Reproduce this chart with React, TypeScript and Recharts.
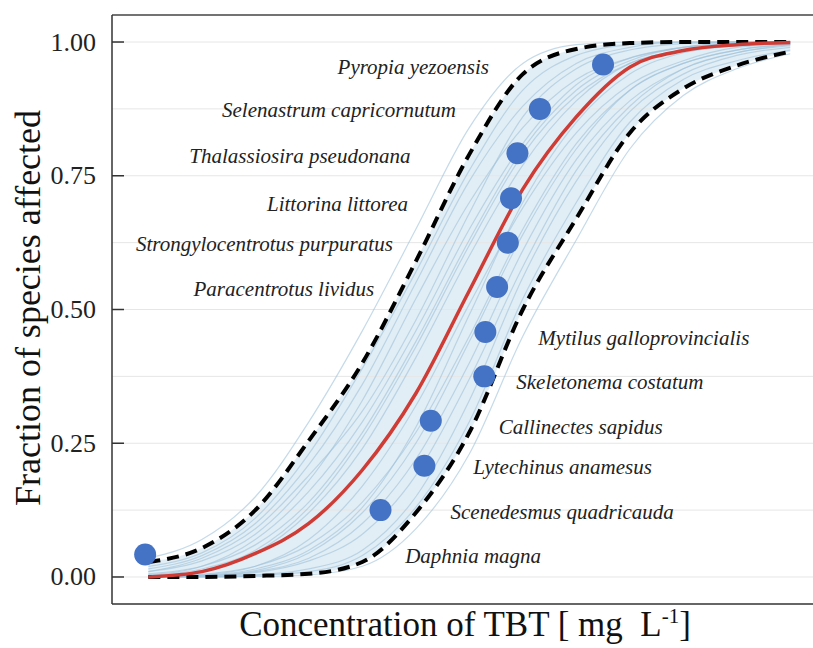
import { Area, ComposedChart, Line, ReferenceLine, Scatter, XAxis, YAxis } from "recharts";

// log10 concentration grid the fitted curves were read at
const conc = [-3, -2.5, -2, -1.5, -1, -0.5, 0, 0.5, 1, 1.5, 2, 2.5, 3];

// median fit + 95% bounds
const median = [0.0, 0.01, 0.044, 0.1, 0.2, 0.343, 0.535, 0.725, 0.86, 0.953, 0.984, 0.995, 0.999];
const upperCI = [0.028, 0.054, 0.125, 0.255, 0.4, 0.59, 0.79, 0.94, 0.987, 0.998, 1.0, 1.0, 1.0];
const lowerCI = [0.0, 0.0, 0.002, 0.006, 0.028, 0.12, 0.27, 0.5, 0.67, 0.83, 0.913, 0.956, 0.982];

// a sample of the bootstrap curves
const bootCurves = [
  [0.004, 0.02, 0.07, 0.16, 0.29, 0.46, 0.65, 0.81, 0.92, 0.97, 0.99, 0.998, 1.0],
  [0.0, 0.005, 0.02, 0.06, 0.14, 0.27, 0.45, 0.65, 0.81, 0.91, 0.96, 0.985, 0.995],
  [0.01, 0.03, 0.08, 0.18, 0.33, 0.52, 0.7, 0.84, 0.93, 0.97, 0.99, 1.0, 1.0],
  [0.0, 0.002, 0.01, 0.035, 0.1, 0.22, 0.4, 0.61, 0.78, 0.89, 0.95, 0.98, 0.993],
  [0.015, 0.04, 0.1, 0.21, 0.36, 0.55, 0.74, 0.88, 0.96, 0.99, 1.0, 1.0, 1.0],
  [0.0, 0.0, 0.004, 0.015, 0.05, 0.15, 0.33, 0.56, 0.74, 0.87, 0.94, 0.975, 0.99],
  [0.002, 0.012, 0.045, 0.12, 0.24, 0.41, 0.6, 0.77, 0.89, 0.96, 0.985, 0.995, 1.0],
  [0.0, 0.003, 0.015, 0.05, 0.13, 0.28, 0.49, 0.7, 0.85, 0.94, 0.98, 0.993, 0.998],
  [0.02, 0.045, 0.11, 0.23, 0.39, 0.57, 0.76, 0.91, 0.975, 0.995, 1.0, 1.0, 1.0],
  [0.0, 0.0, 0.003, 0.01, 0.04, 0.13, 0.29, 0.52, 0.7, 0.85, 0.93, 0.965, 0.985],
  [0.006, 0.02, 0.06, 0.14, 0.27, 0.44, 0.63, 0.8, 0.91, 0.965, 0.99, 0.997, 1.0],
  [0.0, 0.004, 0.02, 0.07, 0.17, 0.32, 0.51, 0.69, 0.83, 0.92, 0.965, 0.99, 0.997],
  [0.035, 0.07, 0.15, 0.29, 0.46, 0.65, 0.84, 0.96, 0.995, 1.0, 1.0, 1.0, 1.0],
  [0.0, 0.0, 0.001, 0.004, 0.02, 0.09, 0.23, 0.45, 0.63, 0.8, 0.9, 0.95, 0.978],
  [0.01, 0.035, 0.09, 0.19, 0.31, 0.48, 0.68, 0.86, 0.95, 0.985, 0.997, 1.0, 1.0],
  [0.0, 0.001, 0.008, 0.03, 0.08, 0.19, 0.37, 0.58, 0.76, 0.88, 0.95, 0.98, 0.995],
  [0.003, 0.015, 0.05, 0.13, 0.26, 0.43, 0.62, 0.79, 0.9, 0.96, 0.985, 0.996, 1.0],
  [0.0, 0.002, 0.012, 0.045, 0.12, 0.25, 0.44, 0.64, 0.8, 0.91, 0.96, 0.985, 0.996],
];

// species toxicity points
const species = [
  "Daphnia magna",
  "Scenedesmus quadricauda",
  "Lytechinus anamesus",
  "Callinectes sapidus",
  "Skeletonema costatum",
  "Mytilus galloprovincialis",
  "Paracentrotus lividus",
  "Strongylocentrotus purpuratus",
  "Littorina littorea",
  "Thalassiosira pseudonana",
  "Selenastrum capricornutum",
  "Pyropia yezoensis",
];
const speciesConc = [-3.03, -0.83, -0.42, -0.36, 0.14, 0.15, 0.26, 0.36, 0.39, 0.45, 0.66, 1.25];
const speciesFrac = [0.042, 0.125, 0.208, 0.292, 0.375, 0.458, 0.542, 0.625, 0.708, 0.792, 0.875, 0.958];

// label placement (px from the point)
const labelDx = [260, 70, 49, 68, 32, 53, -123, -115, -103, -107, -84, -114];
const labelDy = [1, 2, 1, 6, 6, 6, 2, 1, 6, 3, 1, 3];

const yTicks = [0, 0.25, 0.5, 0.75, 1];
const gridLines = [0, 0.125, 0.25, 0.375, 0.5, 0.625, 0.75, 0.875, 1];

const Y_MIN = -0.0505;
const Y_MAX = 1.0505;
const AXIS_X = 112;
const FONT = "'Liberation Serif', 'Times New Roman', serif";

const toPoints = (ys: number[]) => conc.map((x, i) => ({ x, y: ys[i] }));
const bandData = conc.map((x, i) => ({ x, band: [lowerCI[i], upperCI[i]] }));
const pointData = species.map((name, i) => ({
  name,
  x: speciesConc[i],
  y: speciesFrac[i],
  dx: labelDx[i],
  dy: labelDy[i],
}));

const YTick = (props: any) => {
  const { y, payload } = props;
  return (
    <g>
      <line x1={AXIS_X} x2={AXIS_X + 12} y1={y} y2={y} stroke="#333" strokeWidth={1.5} />
      <text x={AXIS_X - 16} y={y} textAnchor="end" dominantBaseline="central" fontSize={26} fontFamily={FONT} fill="#222">
        {payload.value.toFixed(2)}
      </text>
    </g>
  );
};

const SpeciesDot = (props: any) => {
  const { cx, cy, payload } = props;
  return (
    <g>
      <circle cx={cx} cy={cy} r={11} fill="#4472c4" />
      <text
        x={cx + payload.dx}
        y={cy + payload.dy}
        textAnchor={payload.dx < 0 ? "end" : "start"}
        dominantBaseline="central"
        fontSize={21}
        fontStyle="italic"
        fontFamily={FONT}
        fill="#222"
      >
        {payload.name}
      </text>
    </g>
  );
};

export default function App() {
  return (
    <div style={{ position: "fixed", left: 0, top: 0, width: 813, height: 648, background: "#fff", overflow: "hidden" }}>
      <style>{"html, body { margin: 0; overflow: hidden; }"}</style>
      {/* plot runs off the right edge like in the source figure */}
      <ComposedChart width={813} height={648} margin={{ top: 15, right: -12, bottom: 44, left: 0 }}>
        <XAxis type="number" dataKey="x" domain={[-3.34, 3.325]} allowDataOverflow hide />
        <YAxis
          type="number"
          domain={[Y_MIN, Y_MAX]}
          ticks={yTicks}
          width={AXIS_X}
          tickLine={false}
          tick={<YTick />}
          axisLine={{ stroke: "#333", strokeWidth: 1.5 }}
          allowDataOverflow
        />
        {gridLines.map((v) => (
          <ReferenceLine key={v} y={v} stroke="#e6e6e6" strokeWidth={1} />
        ))}
        <ReferenceLine y={Y_MAX} stroke="#444" strokeWidth={1.5} />
        <ReferenceLine y={Y_MIN} stroke="#333" strokeWidth={1.5} />

        <Area
          data={bandData}
          dataKey="band"
          type="monotone"
          stroke="none"
          fill="#cfe2ee"
          fillOpacity={0.6}
          isAnimationActive={false}
        />
        {bootCurves.map((c, i) => (
          <Line
            key={i}
            data={toPoints(c)}
            dataKey="y"
            type="monotone"
            stroke="#9ec2da"
            strokeWidth={1.2}
            strokeOpacity={0.6}
            dot={false}
            isAnimationActive={false}
          />
        ))}
        <Line data={toPoints(upperCI)} dataKey="y" type="monotone" stroke="#000" strokeWidth={4} strokeDasharray="12 7" dot={false} isAnimationActive={false} />
        <Line data={toPoints(lowerCI)} dataKey="y" type="monotone" stroke="#000" strokeWidth={4} strokeDasharray="12 7" dot={false} isAnimationActive={false} />
        <Line data={toPoints(median)} dataKey="y" type="monotone" stroke="#cf3b35" strokeWidth={3.5} dot={false} isAnimationActive={false} />
        <Scatter data={pointData} dataKey="y" shape={<SpeciesDot />} isAnimationActive={false} />
      </ComposedChart>

      <div
        style={{
          position: "absolute",
          left: 28,
          top: 308,
          transform: "translate(-50%, -50%) rotate(-90deg)",
          whiteSpace: "nowrap",
          fontFamily: FONT,
          fontSize: 36,
          lineHeight: 1,
          color: "#111",
        }}
      >
        Fraction of species affected
      </div>
      <div
        style={{
          position: "absolute",
          left: 465,
          top: 607,
          transform: "translateX(-50%)",
          whiteSpace: "pre",
          fontFamily: FONT,
          fontSize: 35,
          lineHeight: 1,
          color: "#111",
        }}
      >
        Concentration of TBT [ mg  L<sup style={{ fontSize: 21, lineHeight: 0, verticalAlign: "0.6em" }}>-1</sup>]
      </div>
    </div>
  );
}
